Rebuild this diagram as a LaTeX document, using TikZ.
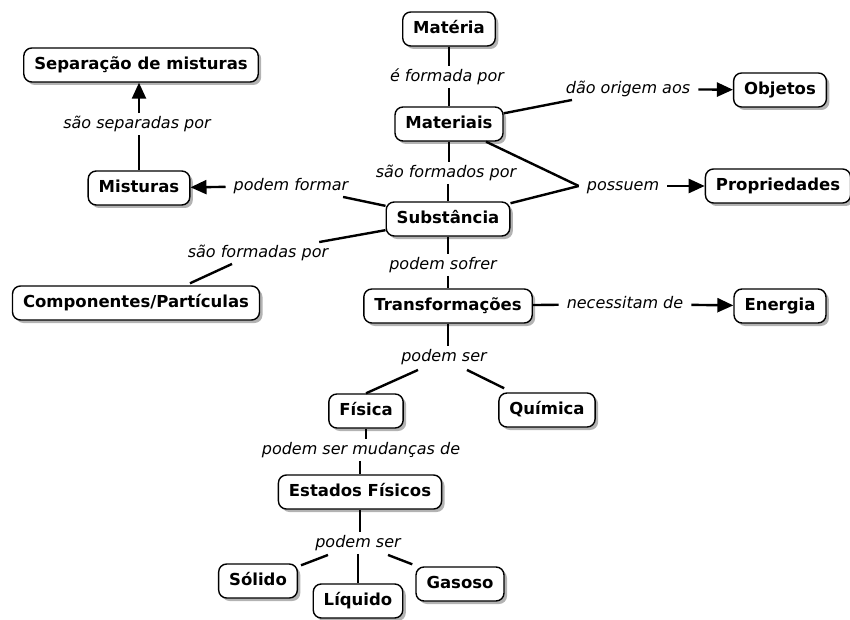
\documentclass[tikz,border=0pt]{standalone}
\usepackage{fontspec}
\setmainfont{DejaVu Sans}[ItalicFont={DejaVu Sans Oblique},BoldFont={DejaVu Sans Bold},BoldItalicFont={DejaVu Sans Bold Oblique}]
\usetikzlibrary{shadows,arrows.meta,calc}
\begin{document}
\begin{tikzpicture}[x=1pt,y=-1pt,
  concept/.style={draw=black, line width=1.4pt, rounded corners=8pt, fill=white,
    font=\fontsize{16.5}{19}\selectfont\bfseries, inner xsep=10.5pt, inner ysep=0pt,
    minimum height=34pt, text height=12.5pt, text depth=3.5pt,
    drop shadow={shadow xshift=3pt, shadow yshift=-3pt, fill=black!50, opacity=0.6, draw=none}},
  lbl/.style={font=\fontsize{16}{19}\selectfont\itshape, inner xsep=8pt, inner ysep=3pt, text height=12pt, text depth=3.5pt},
  conn/.style={line width=2.4pt},
  arr/.style={line width=2.4pt, -{Triangle[length=16pt,width=14pt]}}
]
\useasboundingbox (0,0) rectangle (850,620);

% concepts
\node[concept] (materia)   at (449,29)  {Matéria};
\node[concept] (materiais) at (449,124) {Materiais};
\node[concept] (subst)     at (448,219) {Substância};
\node[concept] (transf)    at (448,306) {Transformações};
\node[concept] (fisica)    at (366,411) {Física};
\node[concept] (quimica)   at (547,410) {Química};
\node[concept] (estados)   at (360,492) {Estados Físicos};
\node[concept] (solido)    at (258,581) {Sólido};
\node[concept] (liquido)   at (358,601) {Líquido};
\node[concept] (gasoso)    at (460,584) {Gasoso};
\node[concept] (separacao) at (141,65)  {Separação de misturas};
\node[concept] (misturas)  at (139,188) {Misturas};
\node[concept] (objetos)   at (780,90)  {Objetos};
\node[concept] (propr)     at (778,186) {Propriedades};
\node[concept] (comp)      at (136,303) {Componentes/Partículas};
\node[concept] (energia)   at (780,306) {Energia};

% linking phrases
\node[lbl] (l1)  at (447,77)  {é formada por};
\node[lbl] (l2)  at (628,89)  {dão origem aos};
\node[lbl] (l3)  at (446,173) {são formados por};
\node[lbl] (l4)  at (623,186) {possuem};
\node[lbl] (l5)  at (291,186) {podem formar};
\node[lbl] (l6)  at (137,124) {são separadas por};
\node[lbl] (l7)  at (258,253) {são formadas por};
\node[lbl] (l8)  at (443,265) {podem sofrer};
\node[lbl] (l9)  at (625,304) {necessitam de};
\node[lbl] (l10) at (444,357) {podem ser};
\node[lbl] (l11) at (361,450) {podem ser mudanças de};
\node[lbl] (l12) at (358,543) {podem ser};

% connectors
\draw[conn] (materia) -- (materia |- l1.north);
\draw[conn] (materia |- l1.south) -- (materiais);
\draw[conn] (materiais) -- (l2);
\draw[arr]  (l2) -- (objetos);
\draw[conn] (materiais) -- (materiais |- l3.north);
\draw[conn] (subst |- l3.south) -- (subst);
\draw[conn] (materiais) -- (l4.west);
\draw[conn] (subst) -- (l4.west);
\draw[arr]  (l4) -- (propr);
\draw[conn] (subst) -- (l5);
\draw[arr]  (l5) -- (misturas);
\draw[conn] (misturas) -- (misturas |- l6.south);
\draw[arr]  (misturas |- l6.north) -- (misturas |- separacao.south);
\draw[conn] (subst) -- (l7);
\draw[conn] ($(l7.south)+(-26,0)$) -- ($(comp.north)+(54,-2)$);
\draw[conn] (subst) -- (subst |- l8.north);
\draw[conn] (subst |- l8.south) -- (transf);
\draw[conn] (transf) -- (l9);
\draw[arr]  (l9) -- (energia);
\draw[conn] (transf) -- (transf |- l10.north);
\draw[conn] ($(l10.south)+(-26,2)$) -- (fisica.north);
\draw[conn] ($(l10.south)+(23,2)$) -- ($(quimica.north west)+(6,-4)$);
\draw[conn] (fisica) -- (fisica |- l11.north);
\draw[conn] (estados |- l11.south) -- (estados);
\draw[conn] (estados) -- (estados |- l12.north);
\draw[conn] ($(l12.south)+(-30,1)$) -- ($(solido.north east)+(3,2)$);
\draw[conn] (liquido |- l12.south) -- (liquido);
\draw[conn] ($(l12.south)+(30,1)$) -- ($(gasoso.north west)+(-3,-2)$);
\end{tikzpicture}
\end{document}
